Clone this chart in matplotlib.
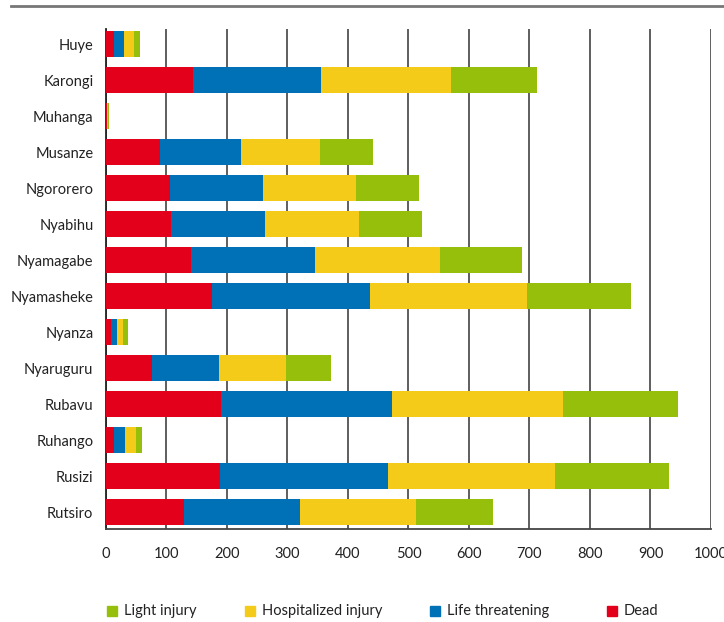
import matplotlib.pyplot as plt
from matplotlib.lines import Line2D
from matplotlib.patches import Rectangle

plt.rcParams['font.family'] = ['Lato', 'DejaVu Sans']

districts = ['Huye', 'Karongi', 'Muhanga', 'Musanze', 'Ngororero', 'Nyabihu',
             'Nyamagabe', 'Nyamasheke', 'Nyanza', 'Nyaruguru', 'Rubavu',
             'Ruhango', 'Rusizi', 'Rutsiro']
dead = [13, 143, 1, 90, 105, 107, 140, 175, 8, 76, 190, 13, 188, 129]
life_threatening = [17, 213, 0, 133, 155, 156, 206, 261, 10, 110, 283, 18, 278, 191]
hospitalized = [16, 215, 3, 131, 154, 156, 206, 260, 10, 111, 283, 18, 277, 193]
light = [11, 142, 1, 88, 103, 103, 136, 172, 9, 75, 190, 11, 187, 127]

colors = {'Dead': '#e2001a', 'Life threatening': '#0071b7',
          'Hospitalized injury': '#f5cb1a', 'Light injury': '#95bf0a'}

fig = plt.figure(figsize=(7.24, 6.22), dpi=100)
ax = fig.add_axes([0.1464, 0.1495, 0.8356, 0.8039])

y = list(range(len(districts)))
left = [0] * len(districts)
for name, vals in [('Dead', dead), ('Life threatening', life_threatening),
                   ('Hospitalized injury', hospitalized), ('Light injury', light)]:
    ax.barh(y, vals, left=left, height=0.72, color=colors[name], zorder=3)
    left = [a + b for a, b in zip(left, vals)]

ax.set_xlim(0, 1000)
ax.set_ylim(13.47, -0.42)
ax.set_xticks(range(0, 1001, 100))
ax.set_yticks(y)
ax.set_yticklabels(districts)
ax.tick_params(axis='both', length=0, labelsize=10.5, colors='#222222')
ax.tick_params(axis='x', pad=13)
ax.tick_params(axis='y', pad=9)
ax.grid(axis='x', color='#333333', linewidth=1.1, zorder=0)
for s in ['top', 'right']:
    ax.spines[s].set_visible(False)
ax.spines['left'].set_color('#222222')
ax.spines['left'].set_linewidth(1.3)
ax.spines['bottom'].set_color('#444444')
ax.spines['bottom'].set_linewidth(1.3)

# rule across the top
fig.add_artist(Line2D([11 / 724, 1], [1 - 6 / 622] * 2, color='#777777', lw=2))

# legend row
leg_items = ['Light injury', 'Hospitalized injury', 'Life threatening', 'Dead']
leg_x = [107, 245, 430, 607]
for name, px in zip(leg_items, leg_x):
    fig.add_artist(Rectangle((px / 724, (622 - 616) / 622), 10 / 724, 10 / 622,
                             color=colors[name], transform=fig.transFigure))
    fig.text((px + 17) / 724, (622 - 611) / 622, name, fontsize=10.5,
             va='center', ha='left', color='#222222')

fig.savefig('out.png', dpi=100)
